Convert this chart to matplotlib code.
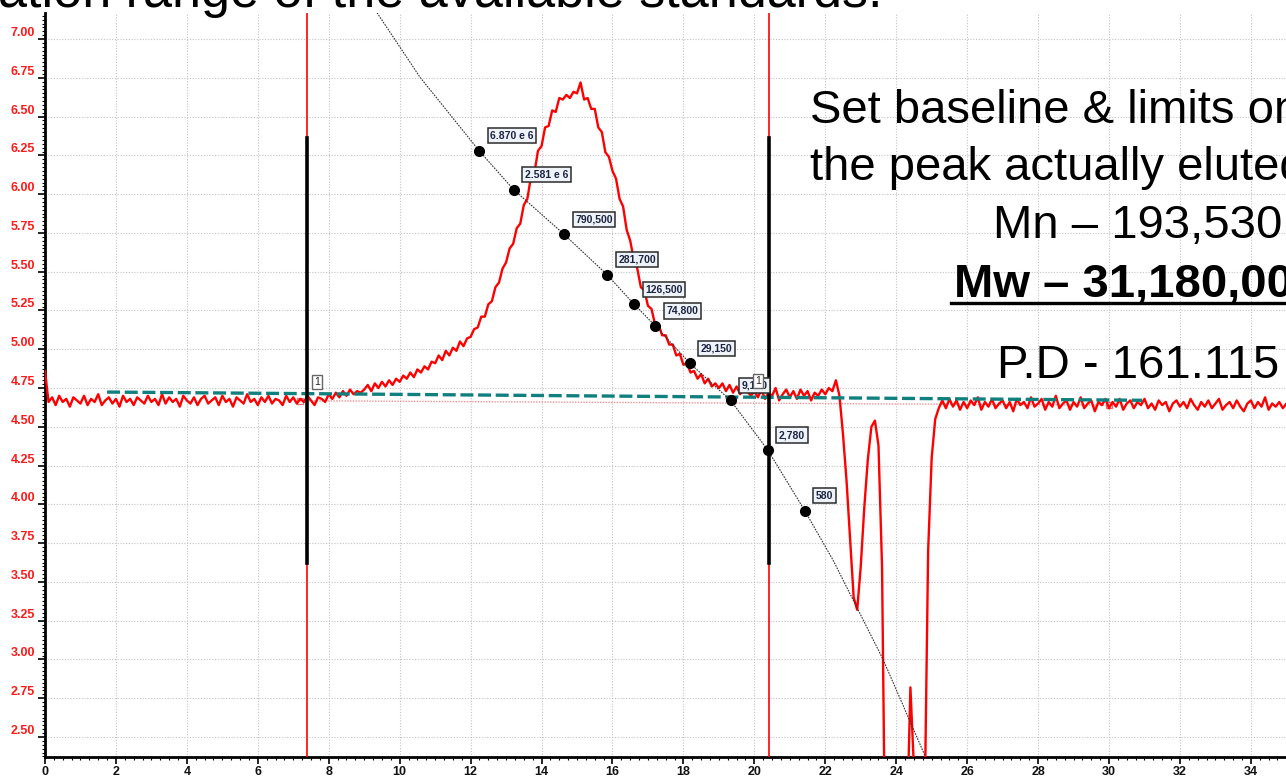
import numpy as np
import matplotlib
matplotlib.use("Agg")
import matplotlib.pyplot as plt
from matplotlib.ticker import MultipleLocator
from matplotlib.lines import Line2D

plt.rcParams['font.family'] = ['Liberation Sans', 'DejaVu Sans']

# ---------------- data ----------------
# detector trace, sampled every 0.1 min starting at 0.0 min
trace_start = 0.0
trace_step = 0.1
trace_signal = [
    4.86, 4.66, 4.69, 4.64, 4.70, 4.66, 4.68, 4.63, 4.69, 4.67,
    4.65, 4.70, 4.64, 4.68, 4.66, 4.71, 4.64, 4.67, 4.69, 4.65,
    4.68, 4.63, 4.70, 4.66, 4.68, 4.64, 4.69, 4.67, 4.65, 4.70,
    4.66, 4.68, 4.64, 4.71, 4.65, 4.69, 4.66, 4.68, 4.63, 4.70,
    4.67, 4.65, 4.69, 4.64, 4.68, 4.70, 4.65, 4.67, 4.69, 4.64,
    4.70, 4.66, 4.68, 4.63, 4.69, 4.67, 4.65, 4.71, 4.66, 4.68,
    4.64, 4.69, 4.66, 4.70, 4.65, 4.68, 4.67, 4.64, 4.70, 4.66,
    4.69, 4.65, 4.68, 4.66, 4.70, 4.67, 4.64, 4.69, 4.68, 4.66,
    4.71, 4.68, 4.72, 4.69, 4.73, 4.70, 4.74, 4.71, 4.73, 4.72,
    4.74, 4.77, 4.73, 4.78, 4.75, 4.79, 4.76, 4.80, 4.77, 4.81,
    4.79, 4.83, 4.81, 4.85, 4.82, 4.87, 4.85, 4.89, 4.87, 4.92,
    4.91, 4.96, 4.93, 4.99, 4.96, 5.01, 4.99, 5.05, 5.02, 5.07,
    5.08, 5.13, 5.14, 5.21, 5.21, 5.29, 5.31, 5.40, 5.43, 5.52,
    5.56, 5.65, 5.68, 5.78, 5.81, 5.93, 5.97, 6.11, 6.14, 6.28,
    6.31, 6.43, 6.44, 6.54, 6.53, 6.62, 6.61, 6.64, 6.62, 6.66,
    6.65, 6.72, 6.61, 6.62, 6.55, 6.55, 6.43, 6.40, 6.27, 6.24,
    6.15, 6.10, 5.97, 5.92, 5.77, 5.70, 5.58, 5.52, 5.40, 5.38,
    5.28, 5.26, 5.16, 5.16, 5.09, 5.09, 5.03, 5.03, 4.96, 4.97,
    4.90, 4.91, 4.85, 4.86, 4.81, 4.84, 4.78, 4.81, 4.76, 4.78,
    4.75, 4.78, 4.73, 4.77, 4.72, 4.76, 4.71, 4.75, 4.73, 4.70,
    4.73, 4.69, 4.74, 4.68, 4.72, 4.70, 4.75, 4.67, 4.71, 4.74,
    4.69, 4.73, 4.68, 4.74, 4.70, 4.73, 4.67, 4.72, 4.70, 4.74,
    4.71, 4.75, 4.73, 4.80, 4.70, 4.45, 4.15, 3.78, 3.40, 3.32,
    3.60, 3.98, 4.29, 4.50, 4.54, 4.38, 3.60, 1.50, 1.50, 1.50,
    1.50, 1.50, 1.50, 1.90, 2.82, 2.30, 1.50, 1.50, 2.00, 3.70,
    4.30, 4.55, 4.62, 4.67, 4.62, 4.68, 4.63, 4.67, 4.61, 4.66,
    4.62, 4.67, 4.64, 4.69, 4.61, 4.66, 4.63, 4.68, 4.62, 4.65,
    4.67, 4.62, 4.66, 4.60, 4.68, 4.64, 4.66, 4.62, 4.69, 4.63,
    4.65, 4.68, 4.61, 4.66, 4.63, 4.70, 4.62, 4.65, 4.67, 4.61,
    4.66, 4.63, 4.69, 4.62, 4.65, 4.67, 4.60, 4.66, 4.64, 4.68,
    4.62, 4.66, 4.63, 4.68, 4.61, 4.65, 4.67, 4.62, 4.66, 4.64,
    4.68, 4.62, 4.65, 4.61, 4.67, 4.64, 4.66, 4.60, 4.65, 4.67,
    4.63, 4.66, 4.62, 4.68, 4.64, 4.61, 4.66, 4.63, 4.67, 4.62,
    4.65, 4.68, 4.61, 4.64, 4.66, 4.62, 4.67, 4.63, 4.60, 4.65,
    4.67, 4.62, 4.66, 4.63, 4.69, 4.61, 4.65, 4.63, 4.66, 4.62,
    4.65, 4.63,
]

# calibration standards (retention time, log M axis value, label)
std_labels = ["6.870 e 6", "2.581 e 6", "790,500", "281,700", "126,500",
              "74,800", "29,150", "9,170", "2,780", "580"]
std_time = [12.24, 13.21, 14.64, 15.85, 16.61, 17.21, 18.18, 19.33, 20.38, 21.42]
std_value = [6.28, 6.03, 5.74, 5.48, 5.29, 5.15, 4.91, 4.67, 4.35, 3.96]

# calibration curve
cal_time = [9.36, 10.57, 12.24, 13.21, 14.64, 15.85, 16.61, 17.21, 18.18,
            19.33, 20.38, 21.42, 22.22, 23.63, 24.81]
cal_value = [7.17, 6.755, 6.28, 6.03, 5.74, 5.48, 5.29, 5.15, 4.91,
             4.67, 4.35, 3.96, 3.64, 3.00, 2.38]

# integration limits
limit_time = [7.40, 20.42]
limit_low = [3.62, 3.62]
limit_high = [6.36, 6.36]

# drawn baseline (dashed) and integration baseline (faint)
baseline_time = [1.75, 30.93]
baseline_value = [4.724, 4.671]
int_base_time = [7.19, 30.0]
int_base_value = [4.668, 4.640]

# peak markers "1"
peak_mark_time = [7.67, 20.10]
peak_mark_value = [4.79, 4.795]

x_ticks = list(range(0, 35, 2))
y_ticks = [2.50, 2.75, 3.00, 3.25, 3.50, 3.75, 4.00, 4.25, 4.50, 4.75,
           5.00, 5.25, 5.50, 5.75, 6.00, 6.25, 6.50, 6.75, 7.00]

# ---------------- figure ----------------
W, H = 1286, 777
fig = plt.figure(figsize=(W / 100, H / 100), dpi=100)
fig.patch.set_facecolor('white')
ax = fig.add_axes([45 / W, 20.3 / H, 1 - 45 / W, (H - 13 - 20.3) / H])
ax.set_xlim(0, 34.99)
ax.set_ylim(2.373, 7.168)

RED = '#ff1a1a'
ax.set_xticks(x_ticks)
ax.set_xticklabels([str(v) for v in x_ticks], fontweight='bold', fontsize=9, color='#111111')
ax.set_yticks(y_ticks)
ax.set_yticklabels([f"{v:.2f}" for v in y_ticks], fontweight='bold', fontsize=9, color=RED)
for lbl in ax.get_yticklabels():
    lbl.set_verticalalignment('bottom')
ax.xaxis.set_minor_locator(MultipleLocator(0.25))
ax.yaxis.set_minor_locator(MultipleLocator(0.025))
ax.tick_params(which='major', direction='out', length=5, width=1.2, pad=2, color='black')
ax.tick_params(which='minor', direction='out', length=2.5, width=0.8, color='black')

for side in ('top', 'right'):
    ax.spines[side].set_visible(False)
for side in ('left', 'bottom'):
    ax.spines[side].set_linewidth(2)
    ax.spines[side].set_color('black')

ax.grid(which='major', color='#c2c2c2', lw=0.8, ls=(0, (1, 1.5)), zorder=0)
ax.set_axisbelow(True)

times = trace_start + trace_step * np.arange(len(trace_signal))

# faint integration baseline
ax.plot(int_base_time, int_base_value, color='#f29090', lw=1.0, ls=(0, (1, 1)), zorder=2)
ax.plot(int_base_time, int_base_value, ls='none', marker='s', ms=5, mfc='none',
        mec='#e07070', mew=0.9, zorder=2)

# red trace
ax.plot(times, trace_signal, color='#ff0000', lw=1.7, zorder=3)

# limit lines
for t, lo, hi in zip(limit_time, limit_low, limit_high):
    ax.axvline(t, color='#ff0000', lw=1.2, zorder=4)
    ax.plot([t, t], [lo, hi], color='black', lw=2.6, zorder=5)

# dashed baseline
ax.plot(baseline_time, baseline_value, color='#10807f', lw=2.4, ls=(0, (3.9, 1.4)), zorder=4)

# calibration curve and standards
ax.plot(cal_time, cal_value, color='#333333', lw=0.8, ls=(0, (1.5, 1)), zorder=6)
ax.plot(std_time, std_value, ls='none', marker='o', ms=7, color='black', zorder=7)

for lbl, t, v in zip(std_labels, std_time, std_value):
    ax.annotate(lbl, (t, v), xytext=(8, 10.8), textcoords='offset points',
                ha='left', va='center', fontsize=7.5, fontweight='bold', color='#1c2340',
                bbox=dict(boxstyle='square,pad=0.25', fc='#eef3fa', ec='#2b2b2b', lw=1.1),
                zorder=8)

for t, v in zip(peak_mark_time, peak_mark_value):
    ax.text(t, v, "1", ha='center', va='center', fontsize=7.5, color='#222222',
            bbox=dict(boxstyle='square,pad=0.2', fc='white', ec='#666666', lw=1.0),
            zorder=9)

# ---------------- slide text ----------------
fig.text(-2 / W, 1 - 7 / H, "ation range of the available standards.",
         fontsize=37.5, ha='left', va='baseline', color='black')

fig.text(810 / W, 1 - 123 / H, "Set baseline & limits on", fontsize=34,
         ha='left', va='baseline', color='black')
fig.text(810 / W, 1 - 180 / H, "the peak actually eluted", fontsize=34,
         ha='left', va='baseline', color='black')
fig.text(1138 / W, 1 - 238 / H, "Mn \u2013 193,530", fontsize=34,
         ha='center', va='baseline', color='black')
mw = fig.text(1137 / W, 1 - 297 / H, "Mw \u2013 31,180,000", fontsize=34, fontweight='bold',
              ha='center', va='baseline', color='black')
fig.text(1138 / W, 1 - 378 / H, "P.D - 161.115", fontsize=34,
         ha='center', va='baseline', color='black')

fig.canvas.draw()
bb = mw.get_window_extent()
y_ul = (H - 303) / H
fig.add_artist(Line2D([(bb.x0 - 3) / W, 1.0], [y_ul, y_ul], transform=fig.transFigure,
                      color='black', lw=2.4))

fig.savefig('out.png', dpi=100, facecolor='white')
